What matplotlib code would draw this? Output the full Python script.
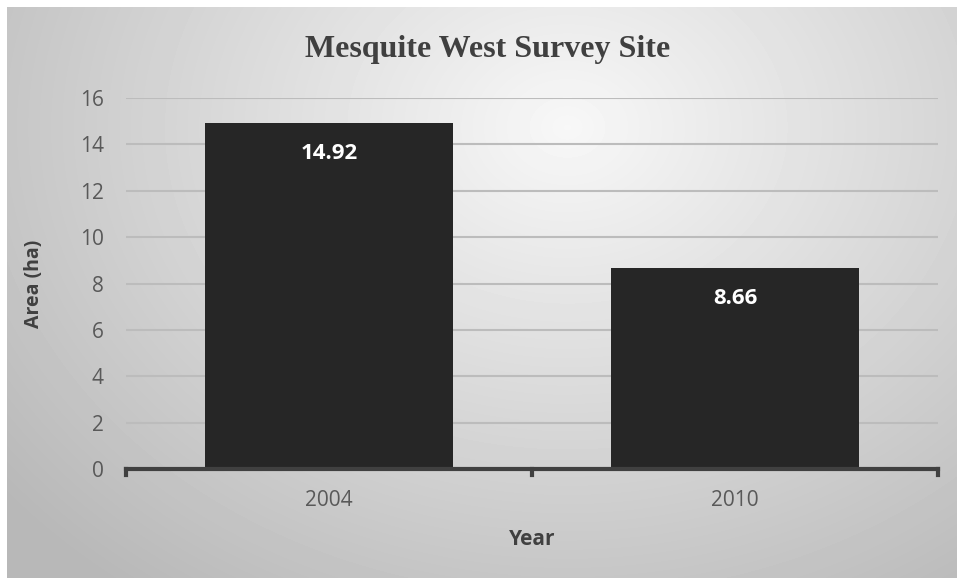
import numpy as np
import matplotlib.pyplot as plt

years = ['2004', '2010']
area = [14.92, 8.66]
yticks = [0, 2, 4, 6, 8, 10, 12, 14, 16]

W, H = 957, 582
fig = plt.figure(figsize=(W / 100, H / 100), dpi=100)
fig.patch.set_facecolor('white')

# radial gray gradient behind the chart
bg = fig.add_axes([7 / W, 4 / H, 950 / W, 571 / H])
bg.axis('off')
yy, xx = np.mgrid[0:571, 0:950]
d = np.hypot((xx - 560) / 700.0, (yy - 120) / 560.0)
shade = np.clip(0.97 - 0.24 * d, 0.72, 0.97)
bg.imshow(shade, cmap='gray', vmin=0, vmax=1, aspect='auto', interpolation='bilinear')

ax = fig.add_axes([126 / W, 1 - 469 / H, 812 / W, 371 / H])
ax.patch.set_alpha(0)
x = np.arange(len(years))
bars = ax.bar(x, area, width=0.61, color='#262626', zorder=3)
ax.set_xlim(-0.5, 1.5)
ax.set_ylim(0, 16)
ax.set_yticks(yticks)
ax.set_xticks(x)
ax.set_xticklabels(years)
ax.grid(axis='y', color='#bcbcbc', linewidth=1.5, zorder=0)
for s in ['top', 'right', 'left']:
    ax.spines[s].set_visible(False)
ax.spines['bottom'].set_color('#404040')
ax.spines['bottom'].set_linewidth(3)
ax.spines['bottom'].set_zorder(4)
ax.tick_params(axis='y', length=0, labelsize=15, labelcolor='#595959', pad=16)
ax.tick_params(axis='x', length=0, labelsize=15, labelcolor='#595959', pad=15)
for t in ax.get_xticklabels() + ax.get_yticklabels():
    t.set_family('Open Sans')
# category boundary ticks
for xb in [-0.5, 0.5, 1.5]:
    ax.plot([xb, xb], [0, -0.25], color='#404040', lw=3, clip_on=False, zorder=4)

for b, v in zip(bars, area):
    ax.text(b.get_x() + b.get_width() / 2, v - 1.32, f'{v:.2f}', ha='center', va='center',
            color='white', fontsize=16, fontweight='bold', family='Open Sans', zorder=5)

ax.set_ylabel('Area (ha)', fontsize=14, fontweight='bold', color='#404040', family='Open Sans')
ax.yaxis.set_label_coords(-0.113, 0.5)
ax.set_xlabel('Year', fontsize=15, fontweight='bold', color='#404040', family='Open Sans')
ax.xaxis.set_label_coords(0.5, -0.189)
ax.xaxis.label.set_va('center')
ax.yaxis.label.set_va('center')
fig.text(488 / W, 1 - 50 / H, 'Mesquite West Survey Site', ha='center', va='center',
         fontsize=23, fontweight='bold', color='#404040', family='Liberation Serif')

fig.savefig('out.png', dpi=100)
